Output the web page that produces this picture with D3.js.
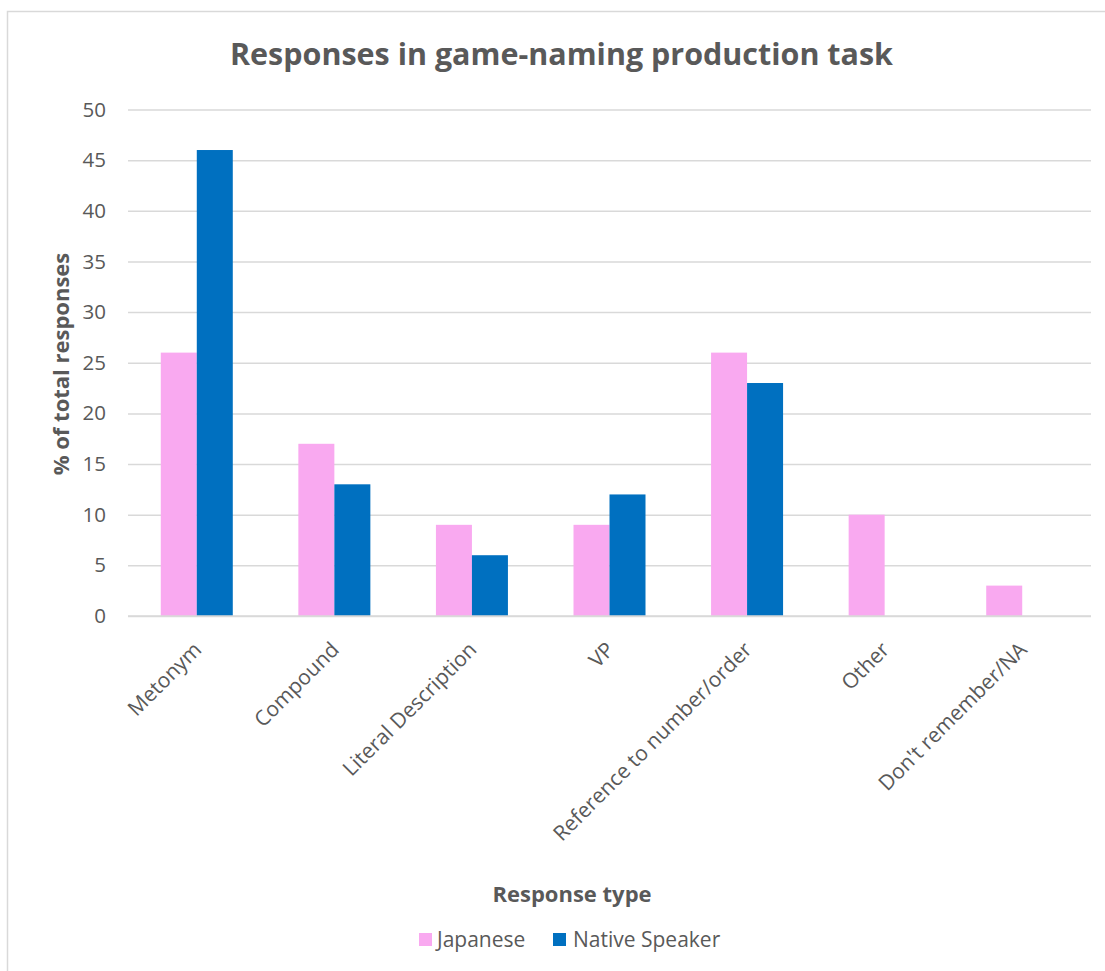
<!DOCTYPE html>
<html>
<head>
<meta charset="utf-8">
<script src="https://cdn.jsdelivr.net/npm/d3@7/dist/d3.min.js"></script>
<style>
  html, body { margin: 0; padding: 0; background: #ffffff; }
  svg { display: block; }
  text { font-family: "Open Sans", "Noto Sans", sans-serif; fill: #595959; }
</style>
</head>
<body>
<svg id="chart" width="1105" height="971"></svg>
<script>
// Response categories and the share of responses per group (%)
const categories = [
  "Metonym",
  "Compound",
  "Literal Description",
  "VP",
  "Reference to number/order",
  "Other",
  "Don't remember/NA"
];
const japanese = [26, 17, 9, 9, 26, 10, 3];
const nativeSpeaker = [46, 13, 6, 12, 23, 0, 0];
const seriesNames = ["Japanese", "Native Speaker"];
const yTicks = [0, 5, 10, 15, 20, 25, 30, 35, 40, 45, 50];

const colors = { "Japanese": "#F9A9F0", "Native Speaker": "#0070C0" };

const svg = d3.select("#chart");
const W = 1105, H = 971;
const plot = { left: 128, right: 1091, top: 109.5, bottom: 616 };

// Chart frame
svg.append("rect")
  .attr("x", 7.5).attr("y", 11.5)
  .attr("width", W + 20).attr("height", H + 20)
  .attr("fill", "#ffffff")
  .attr("stroke", "#D9D9D9").attr("stroke-width", 1.5);

// Title
svg.append("text")
  .attr("x", 230).attr("y", 65)
  .attr("textLength", 663)
  .attr("lengthAdjust", "spacingAndGlyphs")
  .style("font-size", "31px")
  .style("font-weight", "700")
  .text("Responses in game-naming production task");

// Scales
const y = d3.scaleLinear().domain([0, 50]).range([plot.bottom, plot.top]);

const groupRatio = 72 / 137.57;
const x0 = d3.scaleBand()
  .domain(categories)
  .range([plot.left, plot.right])
  .paddingInner(1 - groupRatio)
  .paddingOuter((1 - groupRatio) / 2);

const x1 = d3.scaleBand()
  .domain(seriesNames)
  .range([0, x0.bandwidth()]);

// Gridlines and value axis
const yAxis = d3.axisLeft(y).tickValues(yTicks).tickSize(-(plot.right - plot.left)).tickPadding(22);
const yg = svg.append("g")
  .attr("transform", `translate(${plot.left},0)`)
  .call(yAxis);
yg.select(".domain").remove();
yg.selectAll(".tick line").attr("stroke", "#D9D9D9").attr("stroke-width", 1.5);
yg.selectAll(".tick text")
  .style("font-size", "20.5px")
  .style("font-family", "'Open Sans', sans-serif")
  .attr("fill", "#595959");

// Bars
const rows = categories.map((c, i) => ({
  category: c,
  values: [
    { series: "Japanese", value: japanese[i] },
    { series: "Native Speaker", value: nativeSpeaker[i] }
  ]
}));

const groups = svg.append("g").selectAll("g")
  .data(rows)
  .join("g")
  .attr("transform", d => `translate(${x0(d.category)},0)`);

groups.selectAll("rect")
  .data(d => d.values.filter(v => v.value > 0))
  .join("rect")
  .attr("x", d => x1(d.series))
  .attr("y", d => y(d.value))
  .attr("width", x1.bandwidth())
  .attr("height", d => y(0) - y(d.value))
  .attr("fill", d => colors[d.series]);

// Category axis line
svg.append("line")
  .attr("x1", plot.left).attr("x2", plot.right)
  .attr("y1", y(0)).attr("y2", y(0))
  .attr("stroke", "#D9D9D9").attr("stroke-width", 1.5);

// Category labels, rotated
const xg = svg.append("g");
xg.selectAll("text")
  .data(categories)
  .join("text")
  .attr("transform", d => `translate(${x0(d) + x0.bandwidth() / 2 + 6},651) rotate(-45)`)
  .attr("text-anchor", "end")
  .style("font-size", "21px")
  .text(d => d);

// Axis titles
svg.append("text")
  .attr("transform", `translate(69,364) rotate(-90)`)
  .attr("text-anchor", "middle")
  .style("font-size", "22px")
  .style("font-weight", "700")
  .text("% of total responses");

svg.append("text")
  .attr("x", 572).attr("y", 902)
  .attr("text-anchor", "middle")
  .style("font-size", "22px")
  .style("font-weight", "700")
  .text("Response type");

// Legend
const legendItems = [
  { name: "Japanese", sx: 419, tx: 437 },
  { name: "Native Speaker", sx: 553, tx: 573 }
];
const lg = svg.append("g");
lg.selectAll("rect")
  .data(legendItems)
  .join("rect")
  .attr("x", d => d.sx).attr("y", 933)
  .attr("width", 13).attr("height", 13)
  .attr("fill", d => colors[d.name]);
lg.selectAll("text")
  .data(legendItems)
  .join("text")
  .attr("x", d => d.tx).attr("y", 947)
  .style("font-size", "21px")
  .text(d => d.name);
</script>
</body>
</html>
